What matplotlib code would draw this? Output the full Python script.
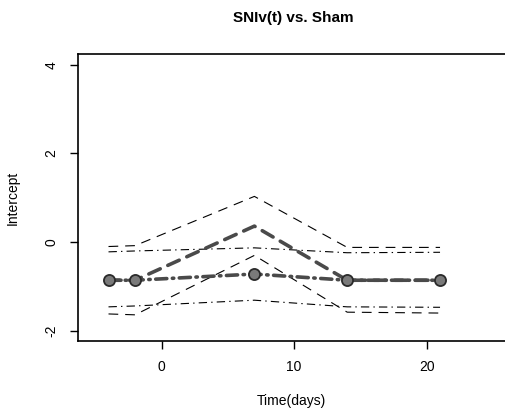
import matplotlib
matplotlib.use('Agg')
import matplotlib.pyplot as plt

plt.rcParams['font.family'] = ['Liberation Sans', 'DejaVu Sans']
plt.rcParams['lines.scale_dashes'] = False

# data
days = [-4, -2, 7, 14, 21]
est_dash = [-0.86, -0.86, 0.36, -0.86, -0.86]
upper_dash = [-0.10, -0.08, 1.03, -0.12, -0.12]
lower_dash = [-1.62, -1.64, -0.30, -1.58, -1.60]
est_dd = [-0.86, -0.86, -0.72, -0.86, -0.86]
upper_dd = [-0.22, -0.20, -0.13, -0.24, -0.23]
lower_dd = [-1.46, -1.44, -1.31, -1.46, -1.47]
xticks = [0, 10, 20]
yticks = [-2, 0, 2, 4]

fig = plt.figure(figsize=(5.05, 4.18), dpi=100)
ax = fig.add_axes([0.1545, 0.1842, 0.8455, 0.6866])

# confidence bands (thin)
ax.plot(days, upper_dash, color='black', lw=0.8, dashes=(7, 5))
ax.plot(days, lower_dash, color='black', lw=0.8, dashes=(7, 5))
ax.plot(days, upper_dd, color='black', lw=0.8, dashes=(6, 3, 1, 3))
ax.plot(days, lower_dd, color='black', lw=0.8, dashes=(6, 3, 1, 3))

# estimates (thick)
ax.plot(days, est_dash, color='#4a4a4a', lw=2.6, dashes=(9, 6), dash_capstyle='round')
ax.plot(days, est_dd, color='#4a4a4a', lw=2.6, dashes=(8, 4, 1, 4), dash_capstyle='round')
ax.plot(days, est_dd, linestyle='none', marker='o', markersize=8,
        markerfacecolor='#7a7a7a', markeredgecolor='#2a2a2a', markeredgewidth=1.3)

ax.set_xlim(-6.3, 25.9)
ax.set_ylim(-2.23, 4.24)
ax.set_xticks(xticks)
ax.set_yticks(yticks)
ax.set_yticklabels([str(v) for v in yticks], rotation=90, va='center')
ax.tick_params(direction='out', length=6, width=1, labelsize=10, pad=8)
ax.spines['right'].set_visible(False)
for s in ['left', 'bottom', 'top']:
    ax.spines[s].set_linewidth(1.2)

ax.set_xlabel('Time(days)', fontsize=10, labelpad=14)
ax.set_ylabel('Intercept', fontsize=10, labelpad=18)
fig.text(0.58, 0.958, 'SNIv(t) vs. Sham', ha='center', va='center',
         fontsize=11, fontweight='bold')

fig.savefig('out.png', dpi=100)
